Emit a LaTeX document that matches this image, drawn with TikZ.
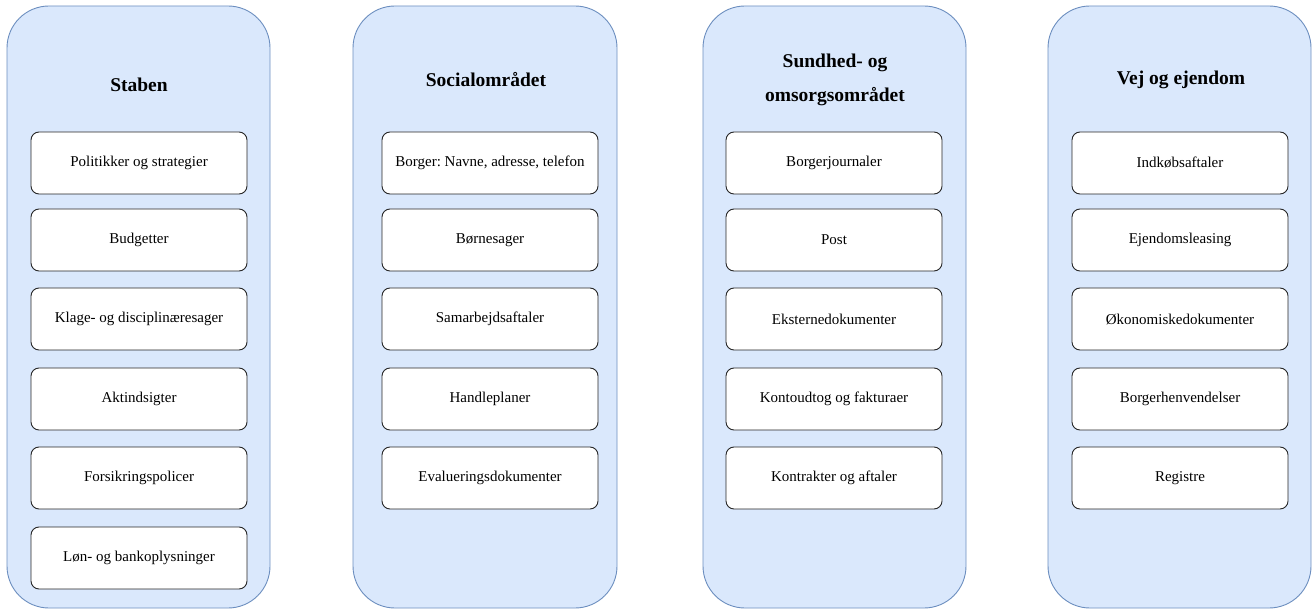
\documentclass[tikz,border=0pt]{standalone}
\usepackage{fontspec}
\setmainfont{Liberation Serif}
\definecolor{laneFill}{HTML}{DAE8FC}
\definecolor{laneLine}{HTML}{6C8EBF}
\tikzset{
  lane/.style={draw=laneLine, fill=laneFill, line width=0.9pt, rounded corners=42pt},
  lanetitle/.style={font=\fontsize{19.5}{34}\selectfont\bfseries, align=center, text=black},
  item/.style={draw=black!85, fill=white, line width=0.9pt, rounded corners=8pt,
    minimum width=216pt, minimum height=62pt, inner sep=0pt,
    font=\fontsize{15}{17}\selectfont}
}
\frenchspacing
\begin{document}
\begin{tikzpicture}[x=1pt,y=-1pt]
  \useasboundingbox (0,0) rectangle (1314,609);
  % four department lanes
  \draw[lane] (7,6) rectangle (270,608);
  \draw[lane] (353,6) rectangle (617,608);
  \draw[lane] (703,6) rectangle (966,608);
  \draw[lane] (1048,6) rectangle (1311,608);

  % lane headings
  \node[lanetitle] (t1) at (139,85) {Staben};
  \node[lanetitle] (t2) at (486,80) {Socialområdet};
  \node[lanetitle] (t3) at (835,80) {Sundhed- og\\omsorgsområdet};
  \node[lanetitle] (t4) at (1181,80) {Vej og ejendom};

  % Staben
  \node[item] (a1) at (139,163) {Politikker og strategier};
  \node[item] (a2) at (139,240) {Budgetter};
  \node[item] (a3) at (139,319) {Klage- og disciplinæresager};
  \node[item] (a4) at (139,399) {Aktindsigter};
  \node[item] (a5) at (139,478) {Forsikringspolicer};
  \node[item] (a6) at (139,558) {Løn- og bankoplysninger};

  % Socialområdet
  \node[item] (b1) at (490,163) {Borger: Navne, adresse, telefon};
  \node[item] (b2) at (490,240) {Børnesager};
  \node[item] (b3) at (490,319) {Samarbejdsaftaler};
  \node[item] (b4) at (490,399) {Handleplaner};
  \node[item] (b5) at (490,478) {Evalueringsdokumenter};

  % Sundhed- og omsorgsområdet
  \node[item] (c1) at (834,163) {Borgerjournaler};
  \node[item] (c2) at (834,240) {Post};
  \node[item] (c3) at (834,319) {Eksternedokumenter};
  \node[item] (c4) at (834,399) {Kontoudtog og fakturaer};
  \node[item] (c5) at (834,478) {Kontrakter og aftaler};

  % Vej og ejendom
  \node[item] (d1) at (1180,163) {Indkøbsaftaler};
  \node[item] (d2) at (1180,240) {Ejendomsleasing};
  \node[item] (d3) at (1180,319) {Økonomiskedokumenter};
  \node[item] (d4) at (1180,399) {Borgerhenvendelser};
  \node[item] (d5) at (1180,478) {Registre};
\end{tikzpicture}
\end{document}
